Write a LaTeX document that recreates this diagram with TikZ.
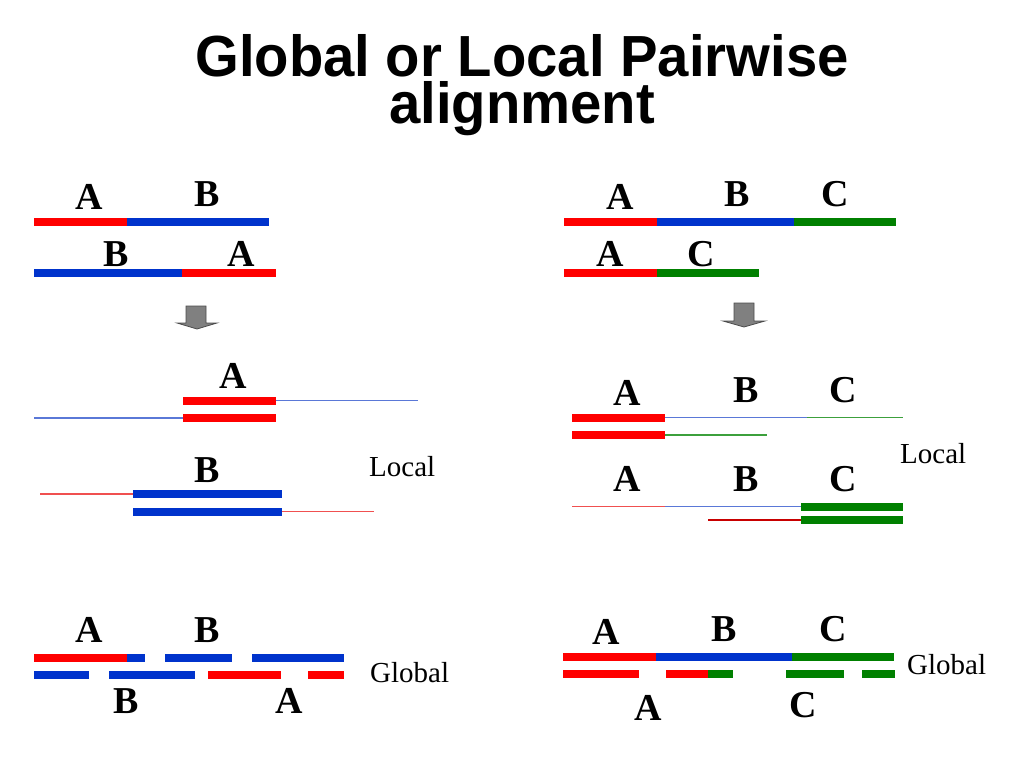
\documentclass[tikz,border=0pt]{standalone}
\usepackage{fontspec}
\setmainfont{Liberation Serif}
\newfontfamily\titlefont{Liberation Sans}
\definecolor{bred}{RGB}{255,0,0}
\definecolor{bblue}{RGB}{0,51,204}
\definecolor{bgreen}{RGB}{0,128,0}
\definecolor{tblue}{RGB}{90,120,215}
\definecolor{tred}{RGB}{240,80,80}
\definecolor{tgreen}{RGB}{60,160,60}
\definecolor{dred}{RGB}{200,0,0}
\definecolor{agray}{RGB}{128,128,128}
\begin{document}
\begin{tikzpicture}[x=1pt,y=-1pt,
  bar/.style={line width=8pt,line cap=butt},
  thin/.style={line width=1.2pt,line cap=butt},
  lab/.style={anchor=base,inner sep=0pt,font=\bfseries\fontsize{38}{38}\selectfont},
  word/.style={anchor=base west,inner sep=0pt,font=\fontsize{29}{29}\selectfont},
  ttl/.style={anchor=base,inner sep=0pt,align=center,font=\titlefont\bfseries\fontsize{58}{46.8}\selectfont,xscale=0.97},
  blockarrow/.style={fill=agray,draw=black!70,line width=0.8pt,line join=miter}]
\useasboundingbox (0,0) rectangle (1024,768);
% title (base anchor = baseline of last line)
\node[ttl] (title) at (522,123.3) {Global or Local Pairwise\\alignment};
% ---------- top left ----------
\draw[bar,bred] (34,221.7) -- (127,221.7);
\draw[bar,bblue] (127,221.7) -- (269,221.7);
\draw[bar,bblue] (34,272.7) -- (182,272.7);
\draw[bar,bred] (182,272.7) -- (276,272.7);
\node[lab] (tlA1) at (89,209) {A};
\node[lab] (tlB1) at (207,206) {B};
\node[lab] (tlB2) at (116,266) {B};
\node[lab] (tlA2) at (241,266) {A};
\draw[blockarrow] (186,306) -- (206,306) -- (206,323) -- (217,323) -- (197,329) -- (177,323) -- (186,323) -- cycle;
% ---------- top right ----------
\draw[bar,bred] (564,221.7) -- (657,221.7);
\draw[bar,bblue] (657,221.7) -- (794,221.7);
\draw[bar,bgreen] (794,221.7) -- (896,221.7);
\draw[bar,bred] (564,272.7) -- (657,272.7);
\draw[bar,bgreen] (657,272.7) -- (759,272.7);
\node[lab] (trA1) at (620,209) {A};
\node[lab] (trB1) at (737,206) {B};
\node[lab] (trC1) at (835,206) {C};
\node[lab] (trA2) at (610,266) {A};
\node[lab] (trC2) at (701,266) {C};
\draw[blockarrow] (734,303) -- (754,303) -- (754,321) -- (765,321) -- (744,327) -- (723,321) -- (734,321) -- cycle;
% ---------- local left ----------
\draw[bar,bred] (183,400.7) -- (276,400.7);
\draw[thin,tblue] (276,400.7) -- (418,400.7);
\draw[thin,tblue] (34,418) -- (183,418);
\draw[bar,bred] (183,418) -- (276,418);
\node[lab] (llA) at (233,388) {A};
\draw[thin,tred] (40,494) -- (133,494);
\draw[bar,bblue] (133,494) -- (282,494);
\draw[bar,bblue] (133,511.7) -- (282,511.7);
\draw[thin,tred] (282,511.7) -- (374,511.7);
\node[lab] (llB) at (207,482) {B};
\node[word] (llLocal) at (369,476) {Local};
% ---------- local right ----------
\draw[bar,bred] (572,417.7) -- (665,417.7);
\draw[thin,tblue] (665,417.7) -- (807,417.7);
\draw[thin,tgreen] (807,417.7) -- (903,417.7);
\draw[bar,bred] (572,435) -- (665,435);
\draw[thin,tgreen] (665,435) -- (767,435);
\node[lab] (lrA1) at (627,405) {A};
\node[lab] (lrB1) at (746,402) {B};
\node[lab] (lrC1) at (843,402) {C};
\draw[thin,tred] (572,506.7) -- (665,506.7);
\draw[thin,tblue] (665,506.7) -- (801,506.7);
\draw[bar,bgreen] (801,506.7) -- (903,506.7);
\draw[thin,dred] (708,520) -- (801,520);
\draw[bar,bgreen] (801,520) -- (903,520);
\node[lab] (lrA2) at (627,491) {A};
\node[lab] (lrB2) at (746,491) {B};
\node[lab] (lrC2) at (843,491) {C};
\node[word] (lrLocal) at (900,463) {Local};
% ---------- global left ----------
\draw[bar,bred] (34,658) -- (127,658);
\draw[bar,bblue] (127,658) -- (145,658);
\draw[bar,bblue] (165,658) -- (232,658);
\draw[bar,bblue] (252,658) -- (344,658);
\draw[bar,bblue] (34,675) -- (89,675);
\draw[bar,bblue] (109,675) -- (195,675);
\draw[bar,bred] (208,675) -- (281,675);
\draw[bar,bred] (308,675) -- (344,675);
\node[lab] (glA1) at (89,642) {A};
\node[lab] (glB1) at (207,642) {B};
\node[lab] (glB2) at (126,713) {B};
\node[lab] (glA2) at (289,713) {A};
\node[word] (glGlobal) at (370,682) {Global};
% ---------- global right ----------
\draw[bar,bred] (563,657) -- (656,657);
\draw[bar,bblue] (656,657) -- (792,657);
\draw[bar,bgreen] (792,657) -- (894,657);
\draw[bar,bred] (563,674) -- (639,674);
\draw[bar,bred] (666,674) -- (708,674);
\draw[bar,bgreen] (708,674) -- (733,674);
\draw[bar,bgreen] (786,674) -- (844,674);
\draw[bar,bgreen] (862,674) -- (895,674);
\node[lab] (grA1) at (606,644) {A};
\node[lab] (grB1) at (724,641) {B};
\node[lab] (grC1) at (833,641) {C};
\node[lab] (grA2) at (648,720) {A};
\node[lab] (grC2) at (803,717) {C};
\node[word] (grGlobal) at (907,674) {Global};
\end{tikzpicture}
\end{document}
